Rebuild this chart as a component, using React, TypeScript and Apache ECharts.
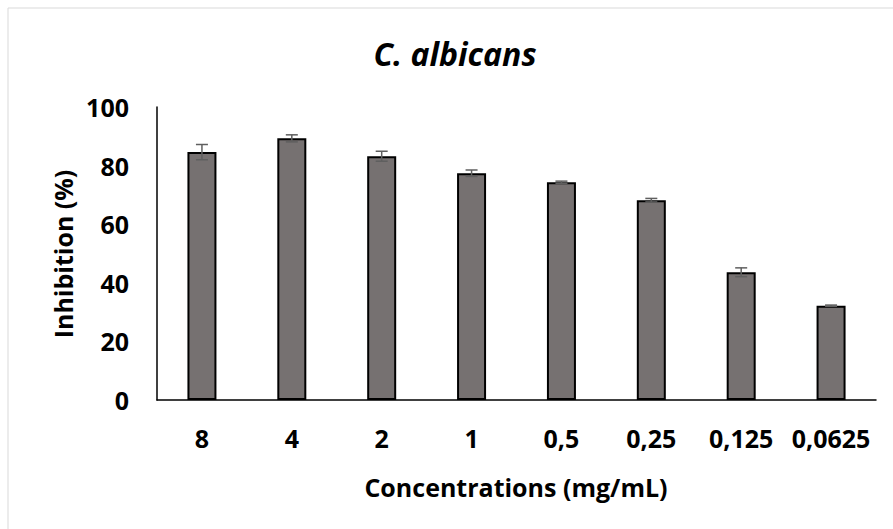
import React, { useEffect, useRef } from "react";
import * as echarts from "echarts";

const categories = ["8", "4", "2", "1", "0,5", "0,25", "0,125", "0,0625"];
const inhibition = [84.6, 89.3, 83.2, 77.4, 74.3, 68.2, 43.6, 32.2];
const errors = [2.6, 1.2, 1.7, 1.1, 0.4, 0.6, 1.5, 0.2];
const yTicks = [0, 20, 40, 60, 80, 100];

const FONT = "'Open Sans', 'Noto Sans', sans-serif";

export default function App() {
  const ref = useRef<HTMLDivElement>(null);
  useEffect(() => {
    if (!ref.current) return;
    const chart = echarts.init(ref.current, undefined, { renderer: "svg" });
    const errData = inhibition.map((v, i) => [i, v - errors[i], v + errors[i]]);
    chart.setOption({
      animation: false,
      backgroundColor: "#fff",
      grid: { left: 157, right: 17, top: 107, bottom: 129 },
      graphic: [
        {
          type: "rect",
          shape: { x: 8, y: 8, width: 900, height: 540 },
          style: { fill: "none", stroke: "#d9d9d9", lineWidth: 1 },
          silent: true,
        },
        {
          type: "text",
          x: 455,
          y: 53,
          style: {
            text: "C. albicans",
            font: `italic bold 32px ${FONT}`,
            fill: "#000",
            textAlign: "center",
            textVerticalAlign: "middle",
          },
        },
        {
          type: "text",
          x: 516,
          y: 487,
          style: {
            text: "Concentrations (mg/mL)",
            font: `bold 25px ${FONT}`,
            fill: "#000",
            textAlign: "center",
            textVerticalAlign: "middle",
          },
        },
        {
          type: "text",
          x: 63,
          y: 254,
          rotation: Math.PI / 2,
          style: {
            text: "Inhibition (%)",
            font: `bold 25px ${FONT}`,
            fill: "#000",
            textAlign: "center",
            textVerticalAlign: "middle",
          },
        },
      ],
      xAxis: {
        type: "category",
        data: categories,
        axisLine: { show: true, lineStyle: { color: "#000", width: 1.5 } },
        axisTick: { show: false },
        axisLabel: {
          color: "#000",
          fontFamily: FONT,
          fontWeight: "bold",
          fontSize: 25,
          margin: 25,
          interval: 0,
        },
      },
      yAxis: {
        type: "value",
        min: yTicks[0],
        max: yTicks[yTicks.length - 1],
        interval: 20,
        axisLine: { show: true, lineStyle: { color: "#000", width: 1.5 } },
        axisTick: { show: false },
        splitLine: { show: false },
        axisLabel: {
          color: "#000",
          fontFamily: FONT,
          fontWeight: "bold",
          fontSize: 25,
          margin: 28,
        },
      },
      series: [
        {
          type: "bar",
          data: inhibition,
          barWidth: 29,
          itemStyle: { color: "#767171", borderColor: "#000", borderWidth: 2 },
        },
        {
          type: "custom",
          data: errData,
          z: 10,
          renderItem: (params: any, api: any) => {
            const x = api.value(0);
            const lo = api.coord([x, api.value(1)]);
            const hi = api.coord([x, api.value(2)]);
            const hw = 6;
            const style = { stroke: "#5f5f5f", lineWidth: 1.5 };
            return {
              type: "group",
              children: [
                { type: "line", shape: { x1: hi[0], y1: hi[1], x2: lo[0], y2: lo[1] }, style },
                { type: "line", shape: { x1: hi[0] - hw, y1: hi[1], x2: hi[0] + hw, y2: hi[1] }, style },
                { type: "line", shape: { x1: lo[0] - hw, y1: lo[1], x2: lo[0] + hw, y2: lo[1] }, style },
              ],
            };
          },
        },
      ],
    });
    return () => chart.dispose();
  }, []);
  return <div ref={ref} style={{ width: 893, height: 529, position: "absolute", left: 0, top: 0 }} />;
}
